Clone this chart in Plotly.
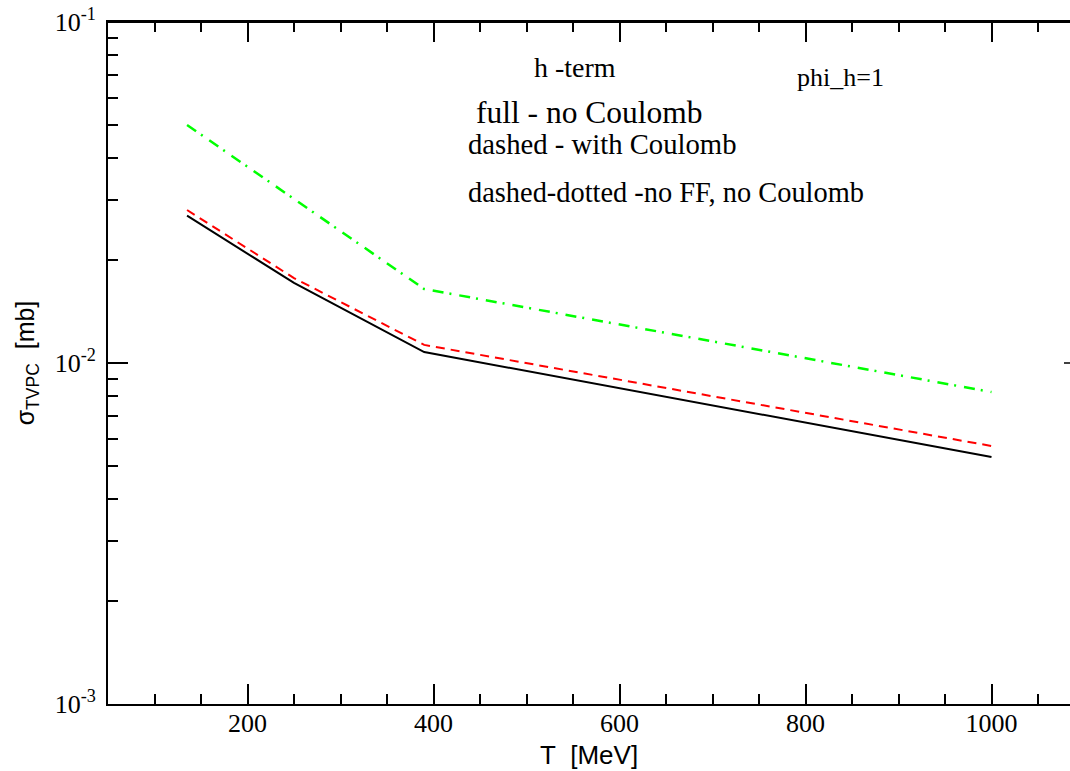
import plotly.graph_objects as go

# Data
T_full = [135, 250, 390, 1000]
sigma_full = [0.02704, 0.01717, 0.01077, 0.00530]      # full - no Coulomb (black solid)

T_coul = [135, 250, 390, 1000]
sigma_coul = [0.0281, 0.01774, 0.0113, 0.00571]        # dashed - with Coulomb (red)

T_noff = [135, 250, 390, 1000]
sigma_noff = [0.0499, 0.0303, 0.01648, 0.00822]        # dashed-dotted - no FF, no Coulomb (green)

x_tickvals = [200, 400, 600, 800, 1000]
x_ticktext = ["200", "400", "600", "800", "1000"]
y_tickvals = [0.001, 0.01, 0.1]
y_ticktext = ["10<sup>-3</sup>", "10<sup>-2</sup>", "10<sup>-1</sup>"]
y_minor = [m * 10.0 ** e for e in (-3, -2) for m in range(2, 10)]

W, H = 1070, 771
L, R, T, B = 108, 0, 22, 67
pw, ph = W - L - R, H - T - B

fig = go.Figure()
fig.add_trace(go.Scatter(x=T_full, y=sigma_full, mode="lines",
                         line=dict(color="black", width=2)))
fig.add_trace(go.Scatter(x=T_coul, y=sigma_coul, mode="lines",
                         line=dict(color="#ff0000", width=2, dash="9px,6px")))
fig.add_trace(go.Scatter(x=T_noff, y=sigma_noff, mode="lines",
                         line=dict(color="#00ff00", width=2.5, dash="11px,6px,2px,8px")))

serif = "Liberation Serif"
sans = "Liberation Sans"

fig.update_layout(
    width=W, height=H,
    margin=dict(l=L, r=R, t=T, b=B),
    plot_bgcolor="white", paper_bgcolor="white",
    showlegend=False,
    xaxis=dict(
        range=[50, 50 + pw / 0.93],
        showline=True, linecolor="black", linewidth=2, mirror="ticks",
        showgrid=False, zeroline=False,
        tickmode="array", tickvals=x_tickvals, ticktext=x_ticktext,
        ticks="inside", ticklen=20, tickwidth=1.5, tickcolor="black",
        minor=dict(ticks="inside", ticklen=10, tickwidth=1.5, tickcolor="black",
                   tickmode="linear", tick0=0, dtick=50, showgrid=False),
        tickfont=dict(family=serif, size=26, color="black"),
        ticklabelstandoff=-5,
        title=dict(text="T\u00a0\u00a0[MeV]", font=dict(family=sans, size=26, color="black"),
                   standoff=9),
    ),
    yaxis=dict(
        type="log", range=[-3, -1],
        showline=True, linecolor="black", linewidth=2, mirror=False,
        showgrid=False, zeroline=False,
        tickmode="array", tickvals=y_tickvals, ticktext=y_ticktext,
        ticks="inside", ticklen=20, tickwidth=1.5, tickcolor="black",
        minor=dict(ticks="inside", ticklen=10, tickwidth=1.5, tickcolor="black",
                   tickmode="array", tickvals=y_minor, showgrid=False),
        tickfont=dict(family=serif, size=26, color="black"),
        ticklabelstandoff=5,
        title=dict(text="\u03c3<sub>TVPC</sub>\u00a0\u00a0[mb]",
                   font=dict(family=sans, size=25, color="black"), standoff=13),
    ),
)

# top frame line (x axis mirrored) and partial right-side major tick at 10^-2
fig.add_shape(type="line", xref="paper", yref="paper", x0=0, x1=1, y0=1, y1=1,
              line=dict(color="black", width=2))
fig.add_shape(type="line", xref="paper", yref="y", x0=1 - 6 / pw, x1=1,
              y0=0.01, y1=0.01, line=dict(color="black", width=1.5))

def px2paper(xp, yp):
    return (xp - L) / pw, (H - B - yp) / ph

notes = [
    ("h -term", 532, 67, 28),
    ("phi_h=1", 795, 77, 26),
    ("full - no Coulomb", 474, 112, 31.5),
    ("dashed - with Coulomb", 466, 144, 28.7),
    ("dashed-dotted -no FF, no Coulomb", 466, 192, 28.4),
]
for text, xp, yp, size in notes:
    xx, yy = px2paper(xp, yp)
    fig.add_annotation(text=text, xref="paper", yref="paper", x=xx, y=yy,
                       xanchor="left", yanchor="middle", showarrow=False,
                       font=dict(family=serif, size=size, color="black"))

fig.write_html("out.html", config={"displayModeBar": False},
               post_script="document.body.style.margin='0';document.body.style.overflow='hidden';")
